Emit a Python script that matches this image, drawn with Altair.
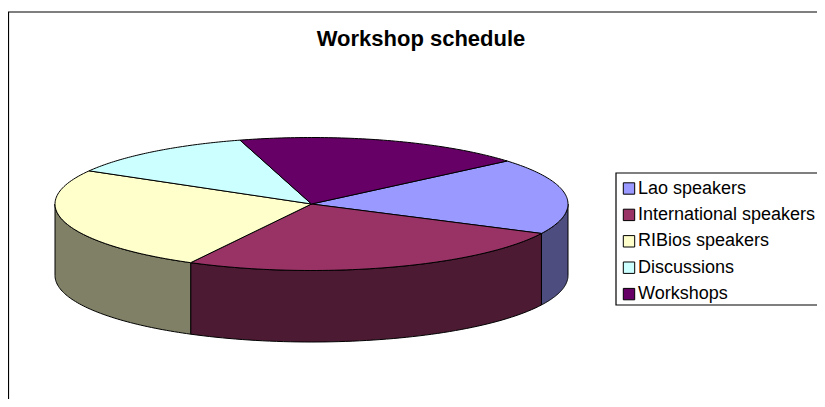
import numpy as np
import pandas as pd
import altair as alt

title = "Workshop schedule"
names = ["Lao speakers", "International speakers", "RIBios speakers", "Discussions", "Workshops"]
values = [18.5, 25.5, 25.5, 12.2, 18.3]
top_colors = ["#9999FF", "#993366", "#FFFFCC", "#CCFFFF", "#660066"]
side_colors = ["#4D4D80", "#4D1A33", "#808066", "#668080", "#330033"]

W, H = 809, 391
CX, CY = 303.5, 196        # pie centre inside the chart, px
RX, RY, DEPTH = 256.5, 66.5, 71.5
START = 40.3               # first slice starts here, degrees, running clockwise

edges = START - np.concatenate([[0], np.cumsum(values)]) / np.sum(values) * 360

top_rows, side_rows = [], []
for i, name in enumerate(names):
    a0, a1 = edges[i], edges[i + 1]
    th = np.radians(np.linspace(a0, a1, 70))
    seq = 0
    top_rows.append(dict(name=name, k=seq, x=0.0, y=0.0)); seq += 1
    for t in th:
        top_rows.append(dict(name=name, k=seq, x=RX * np.cos(t), y=RY * np.sin(t))); seq += 1
    top_rows.append(dict(name=name, k=seq, x=0.0, y=0.0))
    f0, f1 = min(a0, 0), max(a1, -180)
    if a0 > -180 and a1 < 0 and f0 > f1:
        th = np.radians(np.linspace(f0, f1, 60))
        seq = 0
        for t in th:
            side_rows.append(dict(name=name, k=seq, x=RX * np.cos(t), y=RY * np.sin(t))); seq += 1
        for t in th[::-1]:
            side_rows.append(dict(name=name, k=seq, x=RX * np.cos(t), y=RY * np.sin(t) - DEPTH)); seq += 1
        t = th[0]
        side_rows.append(dict(name=name, k=seq, x=RX * np.cos(t), y=RY * np.sin(t)))

xs = alt.Scale(domain=[-CX, W - CX], range=[0, W], nice=False, zero=False)
ys = alt.Scale(domain=[CY, CY - H], range=[0, H], nice=False, zero=False)
X = alt.X("x:Q", scale=xs, axis=None)
Y = alt.Y("y:Q", scale=ys, axis=None)

legend = alt.Legend(
    orient="none", legendX=608, legendY=167.5, title=None, symbolType="square",
    symbolSize=130, symbolStrokeColor="black", symbolStrokeWidth=1, symbolOpacity=1,
    labelFont="Liberation Sans", labelFontSize=18, labelColor="black", labelLimit=300,
    labelOffset=0, rowPadding=8.4, padding=4, zindex=1, values=names,
)

sides = alt.Chart(pd.DataFrame(side_rows)).mark_line(stroke="black", strokeWidth=1).encode(
    x=X, y=Y, order="k:Q",
    fill=alt.Fill("name:N", scale=alt.Scale(domain=names, range=side_colors), legend=None),
)
tops = alt.Chart(pd.DataFrame(top_rows)).mark_line(stroke="black", strokeWidth=1).encode(
    x=X, y=Y, order="k:Q",
    fill=alt.Fill("name:N", scale=alt.Scale(domain=names, range=top_colors), legend=legend),
)
one = pd.DataFrame({"a": [0]})
left = alt.Chart(one).mark_rule(color="black", strokeWidth=1.2).encode(
    x=alt.value(0.5), y=alt.value(4), y2=alt.value(H))
upper = alt.Chart(one).mark_rule(color="black", strokeWidth=1.2).encode(
    x=alt.value(0), x2=alt.value(W), y=alt.value(4))
box = alt.Chart(one).mark_rect(fill="white", stroke="black", strokeWidth=1.2).encode(
    x=alt.value(608), x2=alt.value(W + 5), y=alt.value(165), y2=alt.value(297))
heading = alt.Chart(pd.DataFrame({"t": [title]})).mark_text(
    font="Liberation Sans", fontSize=22, fontWeight="bold", color="black", baseline="alphabetic"
).encode(x=alt.value(413), y=alt.value(38), text="t:N")

chart = (
    alt.layer(sides, tops, left, upper, box, heading)
    .resolve_scale(fill="independent")
    .properties(width=W, height=H, padding=0, autosize=alt.AutoSizeParams(type="none"), background="white")
    .configure_view(stroke=None)
)
chart.save("out.html", embed_options={"renderer": "svg", "actions": False})
